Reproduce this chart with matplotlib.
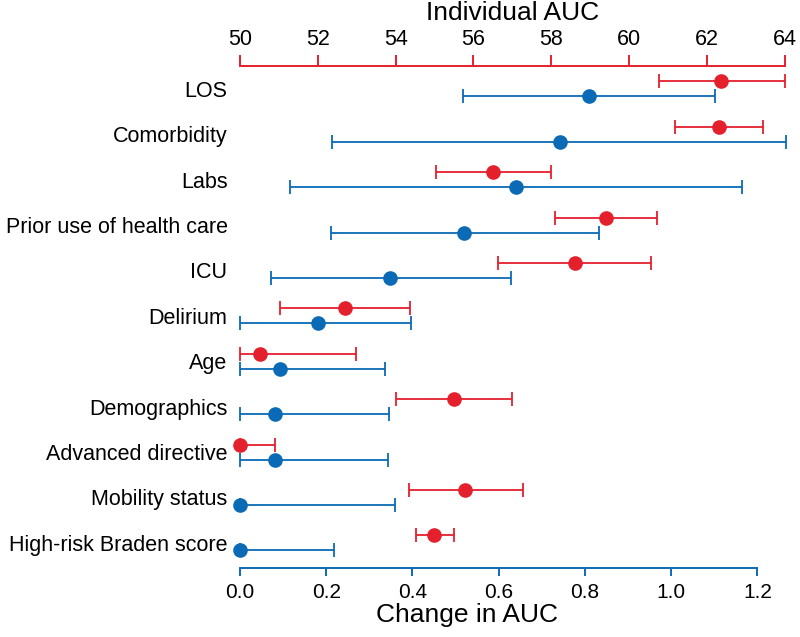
import numpy as np
import matplotlib
matplotlib.use("Agg")
import matplotlib.pyplot as plt

plt.rcParams['font.family'] = ['Liberation Sans', 'DejaVu Sans']

# categories top to bottom
categories = ["LOS", "Comorbidity", "Labs", "Prior use of health care", "ICU",
              "Delirium", "Age", "Demographics", "Advanced directive",
              "Mobility status", "High-risk Braden score"]

# individual AUC (red, top axis)
ind_mean = [62.37, 62.32, 56.50, 59.41, 58.60, 52.71, 50.51, 55.50, 50.00, 55.78, 54.99]
ind_lo = [60.76, 61.17, 55.03, 58.09, 56.62, 51.04, 50.00, 54.02, 50.00, 54.34, 54.51]
ind_hi = [64.00, 63.45, 58.00, 60.71, 60.57, 54.37, 52.97, 56.98, 50.91, 57.26, 55.50]

# change in AUC (blue, bottom axis)
chg_mean = [0.809, 0.742, 0.640, 0.520, 0.349, 0.181, 0.092, 0.081, 0.082, 0.000, 0.000]
chg_lo = [0.516, 0.214, 0.115, 0.211, 0.073, 0.000, 0.000, 0.000, 0.000, 0.000, 0.000]
chg_hi = [1.101, 1.267, 1.164, 0.833, 0.629, 0.396, 0.337, 0.345, 0.343, 0.360, 0.219]

red = '#E4202C'
blue = '#0B6AB6'

y = np.arange(len(categories))
off = 0.165

fig = plt.figure(figsize=(8, 6.37), dpi=100)
ax = fig.add_axes([0.3, 0.108, 0.681, 0.788])
ax2 = ax.twiny()

def draw(a, mean, lo, hi, ypos, color):
    mean = np.array(mean)
    err = [mean - np.array(lo), np.array(hi) - mean]
    cont = a.errorbar(mean, ypos, xerr=err, fmt='o', color=color, ms=9.5,
                      elinewidth=1.3, capsize=5, capthick=1.3)
    for art in cont.get_children():
        art.set_clip_on(False)

draw(ax, chg_mean, chg_lo, chg_hi, y + off, blue)
draw(ax2, ind_mean, ind_lo, ind_hi, y - off, red)

ax.set_xlim(0, 1.2 * 1475 / 1401)
ax2.set_xlim(50, 64)
ax.set_ylim(10.56, -0.5)

ax.set_xticks(np.arange(0, 1.21, 0.2))
ax.set_xticklabels([f"{v:.1f}" for v in np.arange(0, 1.21, 0.2)])
ax2.set_xticks(np.arange(50, 65, 2))

ax.set_yticks(y)
ax.set_yticklabels(categories, fontsize=15.5)
ax.tick_params(axis='y', length=0, pad=9)

for s in ['left', 'right', 'top']:
    ax.spines[s].set_visible(False)
for s in ['left', 'right', 'bottom']:
    ax2.spines[s].set_visible(False)
ax.spines['bottom'].set_color(blue)
ax.spines['bottom'].set_linewidth(1.4)
ax.spines['bottom'].set_bounds(0, 1.2)
ax2.spines['top'].set_color(red)
ax2.spines['top'].set_linewidth(1.4)

ax.tick_params(axis='x', colors=blue, labelcolor='black', labelsize=15,
               length=6, width=1.4, direction='out', pad=5)
ax2.tick_params(axis='x', colors=red, labelcolor='black', labelsize=15.5,
                length=8, width=1.4, direction='out', pad=4)

ax.set_xlabel("Change in AUC", fontsize=19)
ax.xaxis.set_label_coords(0.417, -0.07)
ax2.set_xlabel("Individual AUC", fontsize=19, labelpad=6)

fig.savefig("out.png", dpi=100)
